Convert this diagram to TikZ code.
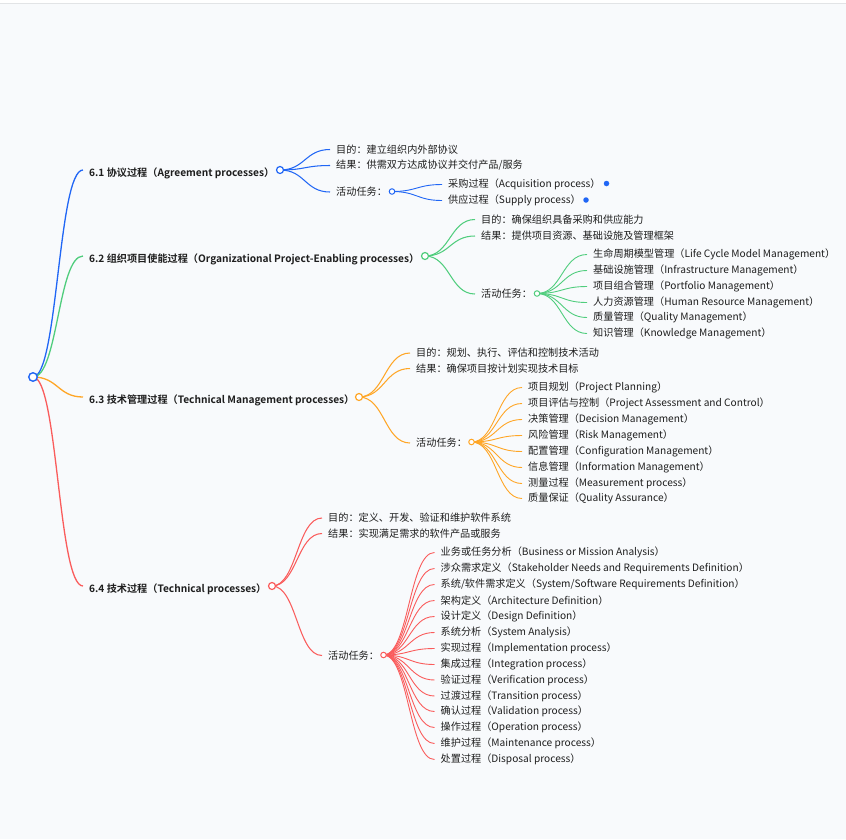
\documentclass[tikz,border=0pt]{standalone}
\usepackage{fontspec}
\setmainfont{Noto Sans CJK SC}[BoldFont={Noto Sans CJK SC Bold}]
\usetikzlibrary{calc}
\definecolor{bgc}{RGB}{248,250,252}
\definecolor{topline}{RGB}{226,228,230}
\definecolor{txt}{RGB}{30,30,30}
\definecolor{cb}{RGB}{32,102,245}
\definecolor{cg}{RGB}{80,205,125}
\definecolor{co}{RGB}{255,166,38}
\definecolor{cr}{RGB}{250,92,92}
\tikzset{
  leaf/.style={anchor=west,inner xsep=6pt,inner ysep=0pt,text=txt,font=\fontsize{10.15}{12}\selectfont},
  head/.style={anchor=west,inner xsep=6pt,inner ysep=0pt,text=txt,font=\fontsize{10.15}{12}\selectfont\bfseries},
  lk1/.style={line width=1.3pt},
  lk2/.style={line width=1.05pt},
  lk3/.style={line width=0.9pt},
  knob/.style={circle,draw,fill=white,inner sep=0pt,minimum size=7pt,line width=1.2pt},
  knobs/.style={circle,draw,fill=white,inner sep=0pt,minimum size=5.5pt,line width=1pt},
  dotc/.style={circle,fill=cb,inner sep=0pt,minimum size=5.5pt}
}
\newcommand\mmlink[3]{\draw[#1] let \p1=(#2), \p2=(#3) in (\p1) .. controls ({0.5*\x1+0.5*\x2},\y1) and ({0.5*\x1+0.5*\x2},\y2) .. (\p2);}
\begin{document}
\begin{tikzpicture}[x=1pt,y=-1pt]
\useasboundingbox (0,0) rectangle (846,839);
\fill[white] (0,0) rectangle (846,839);
\fill[bgc] (0,4) rectangle (846,839);
\draw[topline,line width=1pt] (0,3.5) -- (846,3.5);

% ---------- circle positions ----------
\coordinate (root) at (33,377);
\coordinate (k1) at (280,170);
\coordinate (k2) at (425,256);
\coordinate (k3) at (359,397);
\coordinate (k4) at (272,586);
\coordinate (k1a) at (392,191.5);
\coordinate (k2a) at (537,293.5);
\coordinate (k3a) at (471.5,442);
\coordinate (k4a) at (383.5,655);

% headings
\node[head] (h1) at (83,173.5) {6.1 协议过程（Agreement processes）};
\node[head] (h2) at (83,259.5) {6.2 组织项目使能过程（Organizational Project-Enabling processes）};
\node[head] (h3) at (83,400.5) {6.3 技术管理过程（Technical Management processes）};
\node[head] (h4) at (83,589.5) {6.4 技术过程（Technical processes）};

% 6.1
\node[leaf] (a1) at (330,149.5) {目的：建立组织内外部协议};
\node[leaf] (a2) at (330,165.5) {结果：供需双方达成协议并交付产品/服务};
\node[leaf] (a3) at (330,192) {活动任务：};
\node[leaf] (a31) at (442,184.5) {采购过程（Acquisition process）};
\node[leaf] (a32) at (442,200.5) {供应过程（Supply process）};

% 6.2
\node[leaf] (b1) at (475,219.5) {目的：确保组织具备采购和供应能力};
\node[leaf] (b2) at (475,236) {结果：提供项目资源、基础设施及管理框架};
\node[leaf] (b3) at (475,294) {活动任务：};
\node[leaf] (b31) at (587,254.5) {生命周期模型管理（Life Cycle Model Management）};
\node[leaf] (b32) at (587,270.5) {基础设施管理（Infrastructure Management）};
\node[leaf] (b33) at (587,286.5) {项目组合管理（Portfolio Management）};
\node[leaf] (b34) at (587,302.5) {人力资源管理（Human Resource Management）};
\node[leaf] (b35) at (587,317.5) {质量管理（Quality Management）};
\node[leaf] (b36) at (587,333.5) {知识管理（Knowledge Management）};

% 6.3
\node[leaf] (c1) at (410,353) {目的：规划、执行、评估和控制技术活动};
\node[leaf] (c2) at (410,368.5) {结果：确保项目按计划实现技术目标};
\node[leaf] (c3) at (410,443) {活动任务：};
\node[leaf] (c31) at (522,387.5) {项目规划（Project Planning）};
\node[leaf] (c32) at (522,403.5) {项目评估与控制（Project Assessment and Control）};
\node[leaf] (c33) at (522,419.5) {决策管理（Decision Management）};
\node[leaf] (c34) at (522,435.5) {风险管理（Risk Management）};
\node[leaf] (c35) at (522,451.5) {配置管理（Configuration Management）};
\node[leaf] (c36) at (522,467.5) {信息管理（Information Management）};
\node[leaf] (c37) at (522,483.5) {测量过程（Measurement process）};
\node[leaf] (c38) at (522,498.5) {质量保证（Quality Assurance）};

% 6.4
\node[leaf] (d1) at (322,518) {目的：定义、开发、验证和维护软件系统};
\node[leaf] (d2) at (322,533.5) {结果：实现满足需求的软件产品或服务};
\node[leaf] (d3) at (322,655.5) {活动任务：};
\node[leaf] (d31) at (434.5,552.5) {业务或任务分析（Business or Mission Analysis）};
\node[leaf] (d32) at (434.5,568.5) {涉众需求定义（Stakeholder Needs and Requirements Definition）};
\node[leaf] (d33) at (434.5,584.5) {系统/软件需求定义（System/Software Requirements Definition）};
\node[leaf] (d34) at (434.5,600.5) {架构定义（Architecture Definition）};
\node[leaf] (d35) at (434.5,616.5) {设计定义（Design Definition）};
\node[leaf] (d36) at (434.5,632.5) {系统分析（System Analysis）};
\node[leaf] (d37) at (434.5,648.5) {实现过程（Implementation process）};
\node[leaf] (d38) at (434.5,664.5) {集成过程（Integration process）};
\node[leaf] (d39) at (434.5,680) {验证过程（Verification process）};
\node[leaf] (d310) at (434.5,696) {过渡过程（Transition process）};
\node[leaf] (d311) at (434.5,711.5) {确认过程（Validation process）};
\node[leaf] (d312) at (434.5,727.5) {操作过程（Operation process）};
\node[leaf] (d313) at (434.5,743.5) {维护过程（Maintenance process）};
\node[leaf] (d314) at (434.5,759.5) {处置过程（Disposal process）};

% ---------- links ----------
\mmlink{cb,lk1}{root}{[yshift=3.5pt]h1.west}
\mmlink{cg,lk1}{root}{[yshift=3.5pt]h2.west}
\mmlink{co,lk1}{root}{[yshift=3.5pt]h3.west}
\mmlink{cr,lk1}{root}{[yshift=3.5pt]h4.west}

\foreach \nm in {a1,a2,a3}{\mmlink{cb,lk2}{k1}{\nm.west}}
\foreach \nm in {a31,a32}{\mmlink{cb,lk3}{k1a}{\nm.west}}

\foreach \nm in {b1,b2,b3}{\mmlink{cg,lk2}{k2}{\nm.west}}
\foreach \nm in {b31,b32,b33,b34,b35,b36}{\mmlink{cg,lk3}{k2a}{\nm.west}}

\foreach \nm in {c1,c2,c3}{\mmlink{co,lk2}{k3}{\nm.west}}
\foreach \nm in {c31,c32,c33,c34,c35,c36,c37,c38}{\mmlink{co,lk3}{k3a}{\nm.west}}

\foreach \nm in {d1,d2,d3}{\mmlink{cr,lk2}{k4}{\nm.west}}
\foreach \nm in {d31,d32,d33,d34,d35,d36,d37,d38,d39,d310,d311,d312,d313,d314}{\mmlink{cr,lk3}{k4a}{\nm.west}}

% ---------- circles ----------
\node[knob,draw=cb,minimum size=8.5pt,line width=1.4pt] (rootc) at (root) {};
\node[knob,draw=cb] (k1c) at (k1) {};
\node[knob,draw=cg] (k2c) at (k2) {};
\node[knob,draw=co] (k3c) at (k3) {};
\node[knob,draw=cr] (k4c) at (k4) {};
\node[knobs,draw=cb] (k1ac) at (k1a) {};
\node[knobs,draw=cg] (k2ac) at (k2a) {};
\node[knobs,draw=co] (k3ac) at (k3a) {};
\node[knobs,draw=cr] (k4ac) at (k4a) {};

\node[dotc] (dot1) at (606.5,183.5) {};
\node[dotc] (dot2) at (586,200) {};
\end{tikzpicture}
\end{document}
